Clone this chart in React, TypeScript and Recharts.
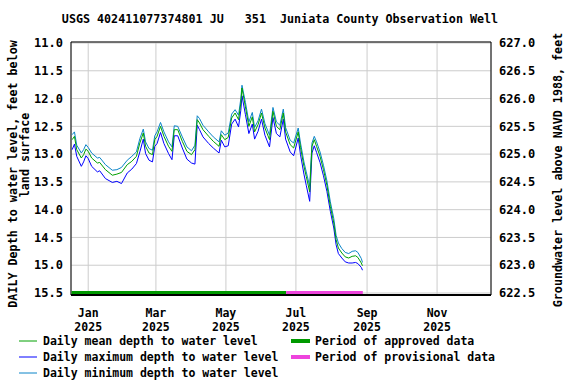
import React from 'react';
import { LineChart, Line, XAxis, YAxis, CartesianGrid, ReferenceArea } from 'recharts';

// Day offsets from 1 Jan 2025
const days = [
  -14, -12, -10, -6, -4, -2, 0, 3, 8, 10, 15, 21, 25, 29, 34, 38, 42, 45, 48, 50,
  53, 56, 58, 60, 63, 66, 70, 73, 75, 78, 82, 86, 90, 93, 95, 97, 100, 105, 109, 114,
  116, 119, 122, 125, 128, 131, 133, 134, 137, 140, 143, 145, 148, 151, 154, 158, 161, 164, 167, 170,
  172, 176, 179, 183, 185, 188, 190, 193, 195, 197, 199, 202, 205, 208, 211, 214, 216, 218, 221, 224,
  227, 230, 233, 235, 238, 239,
];
const meanDepth = [
  12.74, 12.68, 12.92, 13.07, 13.01, 12.91, 12.95, 13.07, 13.16, 13.15, 13.28, 13.38, 13.36, 13.33, 13.19, 13.13, 13.04, 12.80, 12.62, 12.86,
  12.98, 13.01, 12.74, 12.68, 12.50, 12.68, 12.86, 12.95, 12.56, 12.56, 12.77, 12.95, 13.01, 12.92, 12.38, 12.44, 12.56, 12.68, 12.77, 12.86,
  12.65, 12.74, 12.70, 12.35, 12.26, 12.38, 12.08, 11.81, 12.15, 12.50, 12.33, 12.60, 12.47, 12.26, 12.53, 12.74, 12.23, 12.50, 12.56, 12.26,
  12.60, 12.83, 12.89, 12.60, 12.88, 13.22, 13.40, 13.68, 12.86, 12.74, 12.86, 13.04, 13.28, 13.56, 13.94, 14.24, 14.54, 14.69, 14.78, 14.85,
  14.87, 14.84, 14.83, 14.86, 14.96, 15.01,
];
const maxDepth = [
  12.92, 12.82, 13.04, 13.22, 13.14, 13.03, 13.08, 13.22, 13.32, 13.30, 13.44, 13.51, 13.49, 13.53, 13.34, 13.27, 13.17, 12.96, 12.73, 12.99,
  13.11, 13.14, 12.86, 12.81, 12.61, 12.81, 12.99, 13.10, 12.67, 12.67, 12.89, 13.09, 13.16, 13.18, 12.48, 12.56, 12.69, 12.81, 12.89, 12.98,
  12.75, 12.87, 12.85, 12.46, 12.37, 12.51, 12.21, 11.95, 12.29, 12.63, 12.46, 12.73, 12.59, 12.37, 12.66, 12.87, 12.34, 12.63, 12.69, 12.37,
  12.73, 12.96, 13.03, 12.71, 13.01, 13.36, 13.56, 13.85, 12.98, 12.85, 12.97, 13.15, 13.39, 13.67, 14.03, 14.33, 14.63, 14.79, 14.87, 14.94,
  14.96, 14.96, 14.95, 14.97, 15.04, 15.09,
];
const minDepth = [
  12.65, 12.60, 12.84, 12.98, 12.92, 12.83, 12.88, 12.98, 13.07, 13.06, 13.19, 13.29, 13.28, 13.24, 13.11, 13.04, 12.96, 12.72, 12.55, 12.78,
  12.90, 12.93, 12.67, 12.60, 12.43, 12.60, 12.78, 12.87, 12.49, 12.50, 12.69, 12.87, 12.94, 12.84, 12.31, 12.36, 12.48, 12.60, 12.69, 12.78,
  12.58, 12.66, 12.62, 12.28, 12.20, 12.30, 12.00, 11.76, 12.07, 12.42, 12.25, 12.52, 12.40, 12.19, 12.45, 12.66, 12.16, 12.42, 12.48, 12.19,
  12.52, 12.75, 12.80, 12.53, 12.80, 13.14, 13.32, 13.58, 12.80, 12.68, 12.78, 12.96, 13.20, 13.48, 13.86, 14.16, 14.46, 14.60, 14.70, 14.77,
  14.79, 14.75, 14.74, 14.77, 14.88, 14.95,
];

const monthTicks = [0, 59, 120, 181, 243, 304];
const monthLabels = ['Jan', 'Mar', 'May', 'Jul', 'Sep', 'Nov'];
const yearLabel = '2025';
const depthTicks = [11.0, 11.5, 12.0, 12.5, 13.0, 13.5, 14.0, 14.5, 15.0, 15.5];
const elevTicks = [622.5, 623.0, 623.5, 624.0, 624.5, 625.0, 625.5, 626.0, 626.5, 627.0];
const landSurface = 638.0;
const dayDomain = [-15, 351];
const depthDomain = [10.982, 15.536];
const approvedPeriod = [-14.5, 172.5];
const provisionalPeriod = [172.5, 239.3];
const barLevel = 15.5;

const titleText = 'USGS 402411077374801 JU   351  Juniata County Observation Well';
const leftLabel1 = 'DAILY Depth to water level, feet below';
const leftLabel2 = 'land surface';
const rightLabel = 'Groundwater level above NAVD 1988, feet';

const COL_MEAN = '#00a000';
const COL_MAX = '#0000ff';
const COL_MIN = '#0a84c8';
const COL_APPROVED = '#009900';
const COL_PROV = '#ee44dd';

const FONT = "'DejaVu Sans Mono', monospace";

const data = days.map((d, i) => ({ day: d, mean: meanDepth[i], max: maxDepth[i], min: minDepth[i] }));
const approvedData = approvedPeriod.map((d) => ({ day: d, bar: barLevel }));
const provisionalData = provisionalPeriod.map((d) => ({ day: d, bar: barLevel }));

const XTick = (props: any) => {
  const { x, y, payload } = props;
  const idx = monthTicks.indexOf(payload.value);
  return (
    <g>
      <text x={x} y={y + 14} textAnchor="middle" fontFamily={FONT} fontSize={11.5} fontWeight="bold" fill="#000">
        {monthLabels[idx]}
      </text>
      <text x={x} y={y + 28} textAnchor="middle" fontFamily={FONT} fontSize={11.5} fontWeight="bold" fill="#000">
        {yearLabel}
      </text>
    </g>
  );
};

const tickStyle = { fontFamily: FONT, fontSize: 12, fontWeight: 'bold', fill: '#000' };

const legendItems = [
  { label: 'Daily mean depth to water level', color: COL_MEAN, thick: false, col: 0, row: 0 },
  { label: 'Daily maximum depth to water level', color: COL_MAX, thick: false, col: 0, row: 1 },
  { label: 'Daily minimum depth to water level', color: COL_MIN, thick: false, col: 0, row: 2 },
  { label: 'Period of approved data', color: COL_APPROVED, thick: true, col: 1, row: 0 },
  { label: 'Period of provisional data', color: COL_PROV, thick: true, col: 1, row: 1 },
];

export default function App() {
  return (
    <div style={{ position: 'absolute', left: 0, top: 0, width: 576, height: 384, background: '#fff' }}>
      <LineChart width={576} height={384} data={data} margin={{ top: 42, right: 0, bottom: 49, left: 0 }}>
        <CartesianGrid yAxisId="depth" stroke="#cccccc" strokeWidth={1} />
        <XAxis
          dataKey="day"
          type="number"
          domain={dayDomain}
          ticks={monthTicks}
          allowDataOverflow
          height={40}
          axisLine={{ stroke: '#000', strokeWidth: 2 }}
          tickLine={false}
          tick={<XTick />}
          interval={0}
        />
        <YAxis
          yAxisId="depth"
          reversed
          type="number"
          domain={depthDomain}
          ticks={depthTicks}
          allowDataOverflow
          width={71}
          axisLine={false}
          tickLine={false}
          tick={tickStyle}
          tickFormatter={(v: number) => v.toFixed(1)}
          interval={0}
        />
        <YAxis
          yAxisId="elev"
          orientation="right"
          type="number"
          domain={[landSurface - depthDomain[1], landSurface - depthDomain[0]]}
          ticks={elevTicks}
          allowDataOverflow
          width={85}
          axisLine={false}
          tickLine={false}
          tick={tickStyle}
          tickFormatter={(v: number) => v.toFixed(1)}
          interval={0}
        />
        <ReferenceArea
          yAxisId="depth"
          x1={dayDomain[0]}
          x2={dayDomain[1]}
          y1={depthDomain[0]}
          y2={depthDomain[1]}
          fill="none"
          fillOpacity={0}
          stroke="#000"
          strokeWidth={1}
        />
        <Line yAxisId="depth" data={approvedData} dataKey="bar" stroke={COL_APPROVED} strokeWidth={4} dot={false} isAnimationActive={false} />
        <Line yAxisId="depth" data={provisionalData} dataKey="bar" stroke={COL_PROV} strokeWidth={4} dot={false} isAnimationActive={false} />
        <Line yAxisId="depth" dataKey="max" stroke={COL_MAX} strokeWidth={1} dot={false} isAnimationActive={false} type="linear" />
        <Line yAxisId="depth" dataKey="min" stroke={COL_MIN} strokeWidth={1} dot={false} isAnimationActive={false} type="linear" />
        <Line yAxisId="depth" dataKey="mean" stroke={COL_MEAN} strokeWidth={1} dot={false} isAnimationActive={false} type="linear" />
      </LineChart>
      <svg width={576} height={384} style={{ position: 'absolute', left: 0, top: 0, pointerEvents: 'none' }}>
        <text x={280} y={23} textAnchor="middle" fontFamily={FONT} fontSize={11.7} fontWeight="bold" fill="#000" style={{ whiteSpace: 'pre' }}>
          {titleText}
        </text>
        <text
          transform="translate(17,174) rotate(-90)"
          textAnchor="middle"
          fontFamily={FONT}
          fontSize={11.7}
          fontWeight="bold"
          fill="#000"
        >
          {leftLabel1}
        </text>
        <text
          transform="translate(29,155) rotate(-90)"
          textAnchor="middle"
          fontFamily={FONT}
          fontSize={11.7}
          fontWeight="bold"
          fill="#000"
        >
          {leftLabel2}
        </text>
        <text
          transform="translate(562,170) rotate(-90)"
          textAnchor="middle"
          fontFamily={FONT}
          fontSize={11.7}
          fontWeight="bold"
          fill="#000"
        >
          {rightLabel}
        </text>
        {legendItems.map((it) => {
          const y = 341 + it.row * 16;
          const x0 = it.col === 0 ? 19 : 291;
          const x1 = it.col === 0 ? 37 : 310;
          const tx = it.col === 0 ? 43 : 315;
          return (
            <g key={it.label}>
              <line x1={x0} x2={x1} y1={y} y2={y} stroke={it.color} strokeWidth={it.thick ? 4 : 1} />
              <text x={tx} y={y + 4} fontFamily={FONT} fontSize={11.5} fontWeight="bold" fill="#000">
                {it.label}
              </text>
            </g>
          );
        })}
      </svg>
    </div>
  );
}
